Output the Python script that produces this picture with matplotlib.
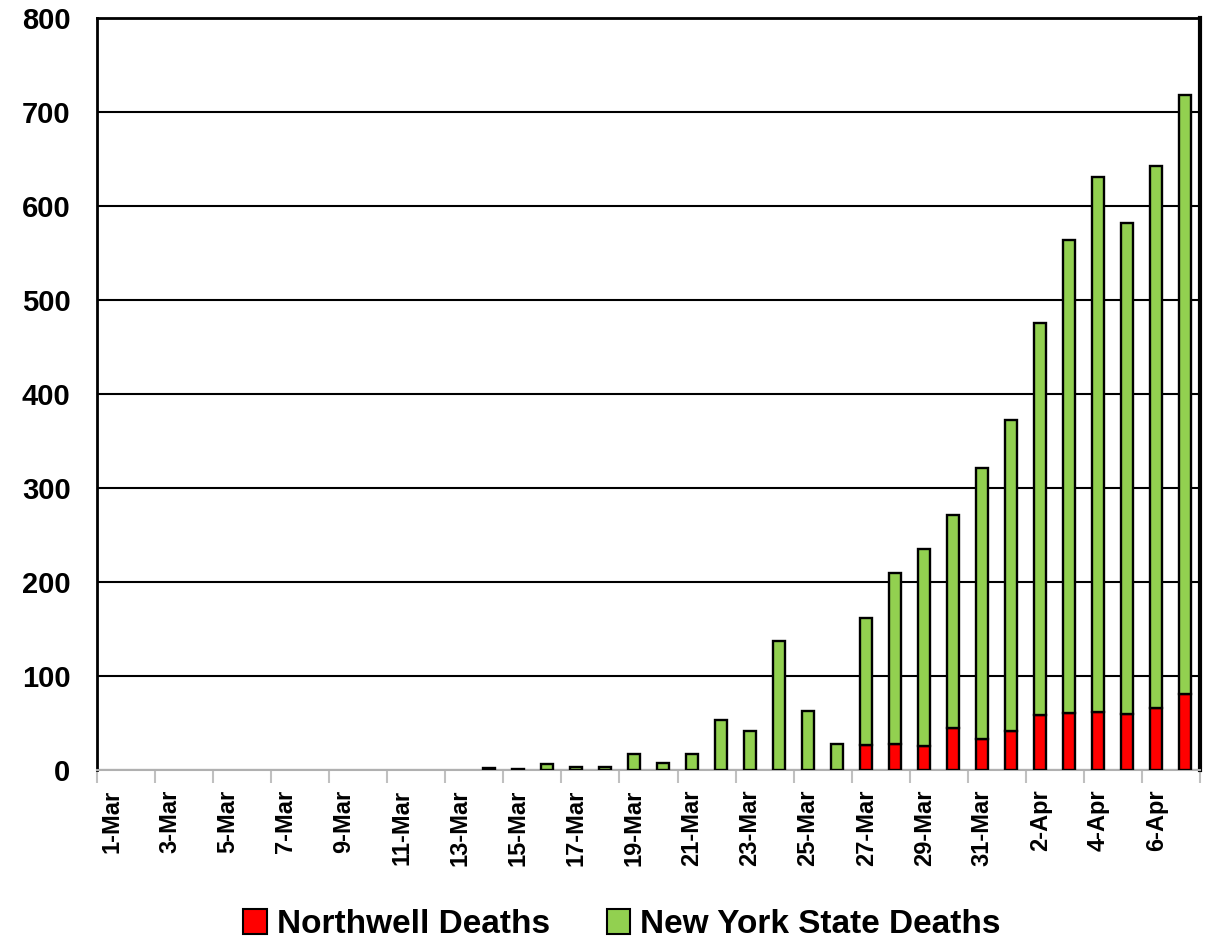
import numpy as np
import matplotlib
matplotlib.use("Agg")
import matplotlib.pyplot as plt
from matplotlib.patches import Patch

# daily deaths, 1-Mar .. 7-Apr
days = [f"{d}-Mar" for d in range(1, 32)] + [f"{d}-Apr" for d in range(1, 8)]
northwell = [0] * 26 + [27, 28, 26, 45, 33, 42, 58, 61, 62, 60, 66, 81]
nys = [0] * 13 + [2, 1, 6, 3, 3, 17, 7, 17, 53, 42, 137, 63, 28,
                  135, 182, 209, 226, 288, 330, 418, 503, 569, 522, 577, 637]

plt.rcParams['font.family'] = ['Liberation Sans', 'DejaVu Sans']
plt.rcParams['font.weight'] = 'bold'

red = '#ff0000'
green = '#92d050'

fig = plt.figure(figsize=(12.17, 9.44), dpi=100)
ax = fig.add_axes([0.0797, 0.1843, 0.9063, 0.7967])

x = np.arange(len(days))
nw = np.array(northwell)
ny = np.array(nys)
w = 0.41
ax.bar(x, nw, width=w, color=red, edgecolor=['black' if v > 0 else 'none' for v in nw],
       linewidth=1.7, zorder=3)
ax.bar(x, ny, width=w, bottom=nw, color=green,
       edgecolor=['black' if v > 0 else 'none' for v in ny], linewidth=1.7, zorder=3)

ax.set_xlim(-0.5, len(days) - 0.5)
ax.set_ylim(0, 800)
ax.set_yticks(range(0, 801, 100))
ax.yaxis.grid(True, color='black', linewidth=1.5, zorder=1)
ax.tick_params(axis='y', length=0, labelsize=21, pad=19)
for t in ax.get_yticklabels():
    t.set_fontweight('bold')

# labels every 2 days, tick marks on category boundaries
ax.set_xticks(x[::2])
ax.set_xticklabels(days[::2], rotation=90, fontsize=17, fontweight='bold')
ax.tick_params(axis='x', length=0, pad=14)
ax.set_xticks(np.arange(-0.5, len(days), 2), minor=True)
ax.tick_params(axis='x', which='minor', length=9, color='#c0c0c0', width=1.5)

for s in ['left', 'top']:
    ax.spines[s].set_linewidth(2)
ax.spines['right'].set_linewidth(3)
ax.spines['bottom'].set_color('#b0b0b0')
ax.spines['bottom'].set_linewidth(1.5)

handles = [Patch(facecolor=red, edgecolor='black', linewidth=1.5, label='Northwell Deaths'),
           Patch(facecolor=green, edgecolor='black', linewidth=1.5, label='New York State Deaths')]
fig.legend(handles=handles, loc='center', bbox_to_anchor=(0.511, 0.021), ncol=2, frameon=False,
           prop={'size': 24, 'weight': 'bold'}, handlelength=0.7, handleheight=0.8,
           handletextpad=0.3, columnspacing=1.7)

fig.savefig('out.png', dpi=100)
